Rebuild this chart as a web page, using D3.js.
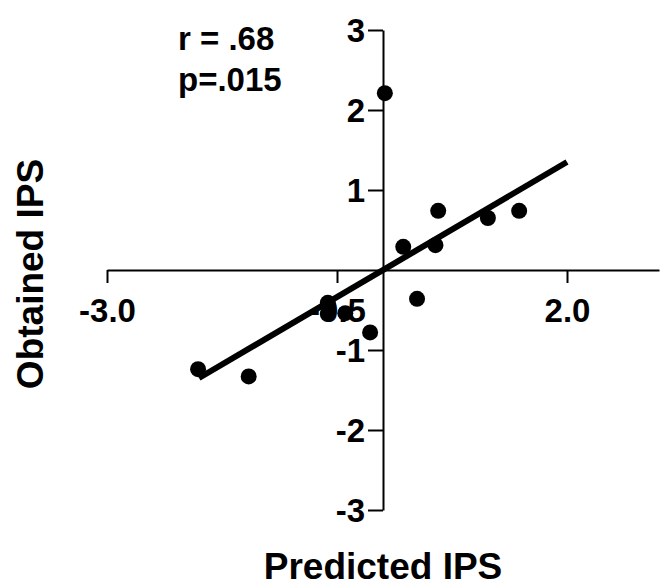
<!DOCTYPE html>
<html>
<head>
<meta charset="utf-8">
<script src="https://cdn.jsdelivr.net/npm/d3@7"></script>
<style>
  body { margin: 0; background: #fff; }
  text { font-family: "Liberation Sans", Arial, sans-serif; font-weight: bold; fill: #000; }
</style>
</head>
<body>
<div id="graphId"></div>
<script>
// points
var predicted = [0.02, 0.22, 0.60, 0.57, 1.14, 1.48, 0.37, -0.60, -0.60, -0.41, -0.14, -2.01, -1.46];
var obtained  = [2.21, 0.29, 0.74, 0.31, 0.65, 0.74, -0.36, -0.41, -0.55, -0.54, -0.78, -1.24, -1.33];
// fitted line ends
var fitX = [-2.0, 2.0];
var fitY = [-1.35, 1.35];
var xTicks = [-3.0, -0.5, 2.0];
var yTicks = [-3, -2, -1, 1, 2, 3];
var stats = ["r = .68", "p=.015"];

var wt = 669, ht = 587;

var svg = d3.select("#graphId").append("svg")
    .attr("width", wt)
    .attr("height", ht);

var x = d3.scaleLinear().domain([-3, 3]).range([107, 659]);
var y = d3.scaleLinear().domain([-3, 3]).range([510, 30]);

// plain hyphen instead of d3's unicode minus
var fmt1 = function (d) { return d3.format(".1f")(d).replace("\u2212", "-"); };
var fmt0 = function (d) { return d3.format("d")(d).replace("\u2212", "-"); };

var xAxis = svg.append("g")
    .attr("transform", "translate(0," + y(0) + ")")
    .call(d3.axisBottom(x)
        .tickValues(xTicks)
        .tickFormat(fmt1)
        .tickSize(13)
        .tickSizeOuter(0)
        .tickPadding(16));

var yAxis = svg.append("g")
    .attr("transform", "translate(" + x(0) + ",0)")
    .call(d3.axisLeft(y)
        .tickValues(yTicks)
        .tickFormat(fmt0)
        .tickSize(15)
        .tickSizeOuter(0)
        .tickPadding(3));

svg.selectAll(".domain, .tick line")
    .attr("stroke", "#000")
    .attr("stroke-width", 2);
svg.selectAll(".tick text")
    .style("font-size", "33px")
    .style("font-family", "Liberation Sans, Arial, sans-serif")
    .style("font-weight", "bold")
    .attr("fill", "#000");
yAxis.selectAll(".tick text").attr("dy", "0.36em");

// regression line
var fit = fitX.map(function (d, i) { return {x: d, y: fitY[i]}; });
svg.append("path")
    .datum(fit)
    .attr("fill", "none")
    .attr("stroke", "#000")
    .attr("stroke-width", 6)
    .attr("d", d3.line()
        .x(function (d) { return x(d.x); })
        .y(function (d) { return y(d.y); }));

// dots
svg.selectAll("circle.pt")
    .data(predicted)
    .enter().append("circle")
    .attr("class", "pt")
    .attr("cx", function (d) { return x(d); })
    .attr("cy", function (d, i) { return y(obtained[i]); })
    .attr("r", 8)
    .attr("fill", "#000");

// stats text
svg.selectAll("text.stat")
    .data(stats)
    .enter().append("text")
    .attr("class", "stat")
    .attr("x", 178)
    .attr("y", function (d, i) { return 50 + i * 41; })
    .style("font-size", "33px")
    .text(function (d) { return d; });

// axis titles
svg.append("text")
    .attr("x", x(0))
    .attr("y", 579)
    .attr("text-anchor", "middle")
    .style("font-size", "37px")
    .text("Predicted IPS");

svg.append("text")
    .attr("transform", "translate(43," + 274 + ") rotate(-90)")
    .attr("text-anchor", "middle")
    .style("font-size", "37px")
    .text("Obtained IPS");
</script>
</body>
</html>
